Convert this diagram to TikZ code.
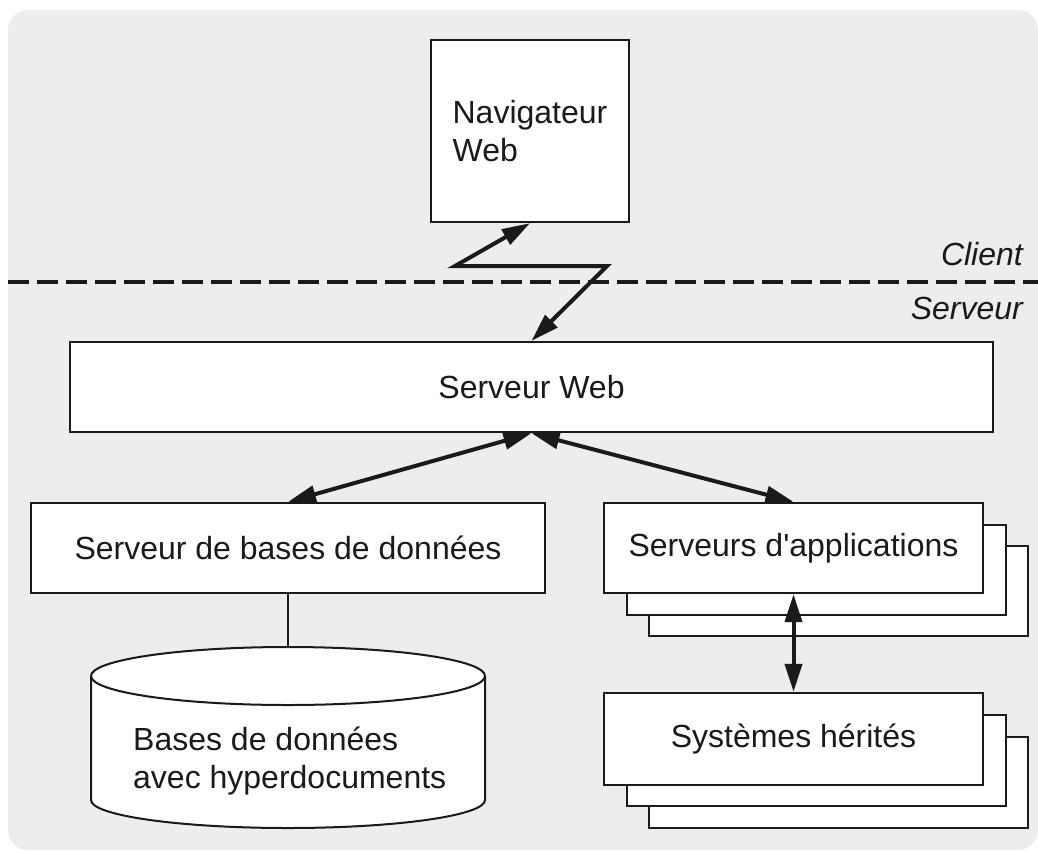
\documentclass[tikz,border=0pt]{standalone}
\usepackage{fontspec}
\setmainfont{Liberation Sans}
\usetikzlibrary{arrows.meta}
\definecolor{bggray}{HTML}{ECEDEC}
\definecolor{ink}{HTML}{1A1A1A}
\begin{document}
\begin{tikzpicture}[x=1pt,y=-1pt,
  every node/.style={font=\fontsize{32}{38}\selectfont, text=ink},
  box/.style={draw=ink, line width=2.4pt, fill=white, inner sep=0pt, align=center},
  backbox/.style={draw=ink, line width=2.4pt, fill=white},
  conn/.style={draw=ink, line width=4pt, line join=miter,
     {Triangle[length=28pt,width=17pt]}-{Triangle[length=28pt,width=17pt]}},
  thinline/.style={draw=ink, line width=1.8pt},
  sidelabel/.style={font=\fontsize{32}{38}\selectfont\itshape, anchor=base east, inner sep=0pt}
]
\useasboundingbox (0,0) rectangle (1038,852);
% background
\fill[bggray, rounded corners=20pt] (8,10) rectangle (1038,850);

% Client / Serveur separation
\draw[ink, line width=4pt, dash pattern=on 21pt off 8pt] (8,282) -- (1038,282);
\node[sidelabel] (client) at (1023,265) {Client};
\node[sidelabel] (serveur) at (1023,319) {Serveur};

% navigator
\node[box, minimum width=198pt, minimum height=182pt, align=left] (nav) at (530,131) {Navigateur\\Web};

% web server
\node[box, minimum width=923pt, minimum height=90pt] (web) at (531.5,387) {Serveur Web};

% database server
\node[box, minimum width=514pt, minimum height=90pt] (bases) at (288,548) {Serveur de bases de données};

% application servers (stack)
\draw[backbox] (649,546) rectangle (1028,636);
\draw[backbox] (627,525) rectangle (1006,615);
\node[box, minimum width=379pt, minimum height=90pt] (app) at (793.5,548) {Serveurs d\textquotesingle applications};

% legacy systems (stack)
\draw[backbox] (649,737) rectangle (1028,828);
\draw[backbox] (627,715) rectangle (1006,806);
\node[box, minimum width=379pt, minimum height=92pt] (sys) at (793.5,739) {Systèmes hérités};

% database cylinder
\filldraw[fill=white, draw=ink, line width=2pt]
  (91,676) -- (91,800) arc[start angle=180, end angle=360, x radius=197pt, y radius=28pt]
  -- (485,676) arc[start angle=0, end angle=180, x radius=197pt, y radius=29pt] -- cycle;
\draw[ink, line width=2pt] (91,676) arc[start angle=180, end angle=360, x radius=197pt, y radius=29pt];
\coordinate (dbtop) at (288,647);
\node[inner sep=0pt, align=left, anchor=west] (db) at (133,761) {Bases de données\\avec hyperdocuments};

% connectors
\coordinate (zl) at (455,266);
\coordinate (zr) at (607,266);
\draw[conn] (nav.south) -- (zl) -- (zr) -- (web.north);
\draw[conn] (web.south) -- (bases.north);
\draw[conn] (web.south) -- (app.north);
\draw[conn] (app.south) -- (sys.north);
\draw[thinline] (bases.south) -- (dbtop);
\end{tikzpicture}
\end{document}
